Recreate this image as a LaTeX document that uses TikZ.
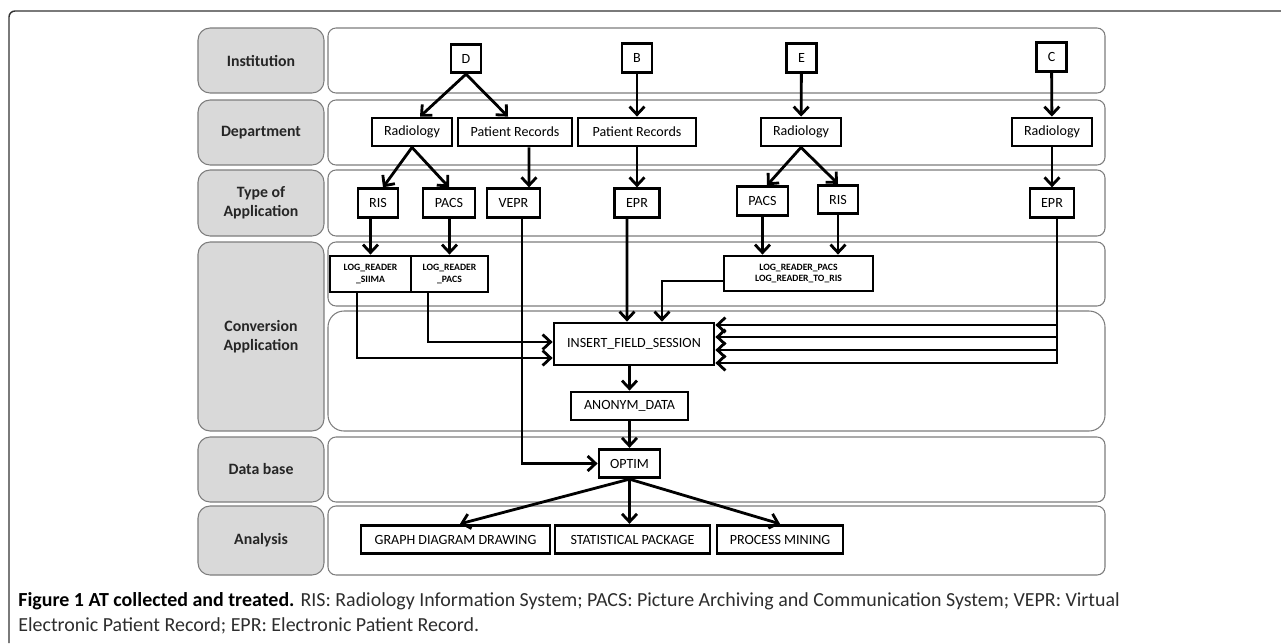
\documentclass[tikz,border=0pt]{standalone}
\usepackage{fontspec}
\setmainfont{Carlito}
\usetikzlibrary{arrows.meta,positioning,calc}
\definecolor{lanegray}{RGB}{125,125,125}
\definecolor{labelfill}{RGB}{217,217,217}
\definecolor{captext}{RGB}{45,45,45}

\begin{document}
\begin{tikzpicture}[
        x=0.02cm, y=-0.02cm,
        font=\fontsize{8}{9.6}\selectfont,
        lane/.style={draw=lanegray, line width=0.6pt, rounded corners=#1},
        lane/.default=0.16cm,
        rowlabel/.style={draw=lanegray, fill=labelfill, line width=0.6pt, rounded corners=0.24cm, minimum width=2.52cm, inner sep=0pt, align=center, font=\fontsize{9}{10.8}\selectfont\bfseries, text=black!85},
        box/.style={draw, line width=1.6pt, inner sep=0pt, minimum height=0.57cm, align=center},
        lrbox/.style={box, minimum height=0.72cm, font=\fontsize{5.5}{6.8}\selectfont\bfseries},
        arrow/.style={-{Straight Barb[length=4.5pt,width=8.5pt]}, line width=1.6pt}
    ]
        \useasboundingbox (0,0) rectangle (1281,643);
        \draw[black!80, line width=0.8pt, rounded corners=0.12cm] (9,643) -- (9,11) -- (1281,11);

        % rows
        \node[rowlabel, minimum height=1.3cm] (lInst) at (261,60.5) {Institution};
        \node[rowlabel, minimum height=1.3cm] (lDept) at (261,132.5) {Department};
        \node[rowlabel, minimum height=1.32cm] (lType) at (261,203) {Type of\\Application};
        \node[rowlabel, minimum height=3.78cm] (lConv) at (261,336.5) {Conversion\\Application};
        \node[rowlabel, minimum height=1.3cm] (lBase) at (261,469.5) {Data base};
        \node[rowlabel, minimum height=1.38cm] (lAnal) at (261,540.5) {Analysis};

        \draw[lane] (328,28) rectangle (1105,93);
        \draw[lane] (328,100) rectangle (1105,165);
        \draw[lane] (328,170) rectangle (1105,236);
        \draw[lane] (328,242) rectangle (1105,306);
        \draw[lane=0.32cm] (328,311) rectangle (1105,431);
        \draw[lane] (328,437) rectangle (1105,502);
        \draw[lane] (328,506) rectangle (1105,575);

        % institutions
        \node[box, minimum width=0.6cm] (d) at (466,58.5) {D};
        \node[box, minimum width=0.6cm] (b) at (637,58) {B};
        \node[box, minimum width=0.6cm] (e) at (801.5,58) {E};
        \node[box, minimum width=0.6cm] (c) at (1051.5,57) {C};

        % departments
        \node[box, minimum width=1.6cm, minimum height=0.56cm] (radD) at (412,132) {Radiology};
        \node[box, minimum width=2.28cm, minimum height=0.56cm] (prD) at (515,132) {Patient Records};
        \node[box, minimum width=2.36cm, minimum height=0.56cm] (prB) at (637,132) {Patient Records};
        \node[box, minimum width=1.6cm, minimum height=0.56cm] (radE) at (801,132) {Radiology};
        \node[box, minimum width=1.6cm, minimum height=0.56cm] (radC) at (1052,132) {Radiology};
        \draw[arrow] (d.south) -- ([xshift=0.16cm]radD.north);
        \draw[arrow] (d.south) -- ([xshift=-0.14cm]prD.north);
        \draw[arrow] (b) -- (prB);
        \draw[arrow] (e) -- (radE);
        \draw[arrow] (c) -- (radC);

        % applications
        \node[box, minimum width=0.8cm] (risD) at (378,203) {RIS};
        \node[box, minimum width=1.04cm] (pacsD) at (449,203) {PACS};
        \node[box, minimum width=1.06cm] (vepr) at (513.5,203) {VEPR};
        \node[box, minimum width=0.9cm] (eprB) at (637,203) {EPR};
        \node[box, minimum width=1.02cm] (pacsE) at (762.5,201) {PACS};
        \node[box, minimum width=0.8cm] (risE) at (838,199.5) {RIS};
        \node[box, minimum width=0.88cm] (eprC) at (1052,203) {EPR};
        \draw[arrow] (radD.south) -- ([xshift=0.1cm]risD.north);
        \draw[arrow] (radD.south) -- (pacsD.north);
        \draw[arrow] ([xshift=0.28cm]prD.south) -- ([xshift=0.31cm]vepr.north);
        \draw[arrow] (prB) -- (eprB);
        \draw[arrow] (radE.south) -- ([xshift=0.09cm]pacsE.north);
        \draw[arrow] (radE.south) -- (risE.north);
        \draw[arrow] (radC) -- (eprC);

        % conversion
        \node[lrbox, minimum width=1.62cm] (siima) at (370.5,274) {LOG\_READER\\\_SIIMA};
        \node[lrbox, minimum width=1.54cm, right=-1.6pt of siima] (lrpacs) {LOG\_READER\\\_PACS};
        \node[lrbox, minimum width=2.98cm, minimum height=0.7cm] (lrE) at (798.5,273.5) {LOG\_READER\_PACS\\LOG\_READER\_TO\_RIS};
        \node[box, minimum width=3.2cm, minimum height=0.84cm] (insert) at (634,344) {INSERT\_FIELD\_SESSION};
        \node[box, minimum width=2.34cm, minimum height=0.56cm] (anonym) at (629.5,406) {ANONYM\_DATA};
        \draw[arrow] (risD.south -| siima.north) -- (siima.north);
        \draw[arrow] (pacsD.south -| lrpacs.north) -- (lrpacs.north);
        \draw[arrow] (pacsE.south) -- (pacsE.south |- lrE.north);
        \draw[arrow] (risE.south) -- (risE.south |- lrE.north);
        \draw[arrow] ([xshift=-0.27cm]siima.south) |- ([yshift=-0.28cm]insert.west);
        \draw[arrow] ([xshift=-0.43cm]lrpacs.south) |- ([yshift=0.04cm]insert.west);
        \draw[arrow] ([xshift=-0.2cm]eprB.south) -- ([xshift=-0.14cm]insert.north);
        \draw[arrow] ([yshift=-0.15cm]lrE.west) -| ([xshift=0.56cm]insert.north);
        \coordinate (eprCout) at ([xshift=0.1cm]eprC.south);
        \draw[arrow] (eprCout) |- ([yshift=0.38cm]insert.east);
        \draw[arrow] (eprCout) |- ([yshift=0.14cm]insert.east);
        \draw[arrow] (eprCout) |- ([yshift=-0.12cm]insert.east);
        \draw[arrow] (eprCout) |- ([yshift=-0.38cm]insert.east);
        \draw[arrow] (insert.south -| anonym.north) -- (anonym.north);

        % data base and analysis
        \node[box, minimum width=1.22cm] (optim) at (629.5,463.5) {OPTIM};
        \node[box, minimum width=3.78cm] (graph) at (455.5,539.5) {GRAPH DIAGRAM DRAWING};
        \node[box, minimum width=3.1cm] (stat) at (632.5,539.5) {STATISTICAL PACKAGE};
        \node[box, minimum width=2.52cm] (proc) at (780,539.5) {PROCESS MINING};
        \draw[arrow] (anonym) -- (optim);
        \draw[arrow] ([xshift=0.17cm]vepr.south) |- (optim.west);
        \draw[arrow] (optim.south) -- ([xshift=0.09cm]graph.north);
        \draw[arrow] (optim.south) -- (optim.south |- stat.north);
        \draw[arrow] (optim.south) -- (proc.north);

        \node[anchor=north west, inner sep=0pt, align=left, text=captext, font=\fontsize{11.35}{14.2}\selectfont] (caption) at (18,592) {\textbf{\color{black}Figure 1 AT collected and treated.} RIS: Radiology Information System; PACS: Picture Archiving and Communication System; VEPR: Virtual\\Electronic Patient Record; EPR: Electronic Patient Record.};
    \end{tikzpicture}
\end{document}
